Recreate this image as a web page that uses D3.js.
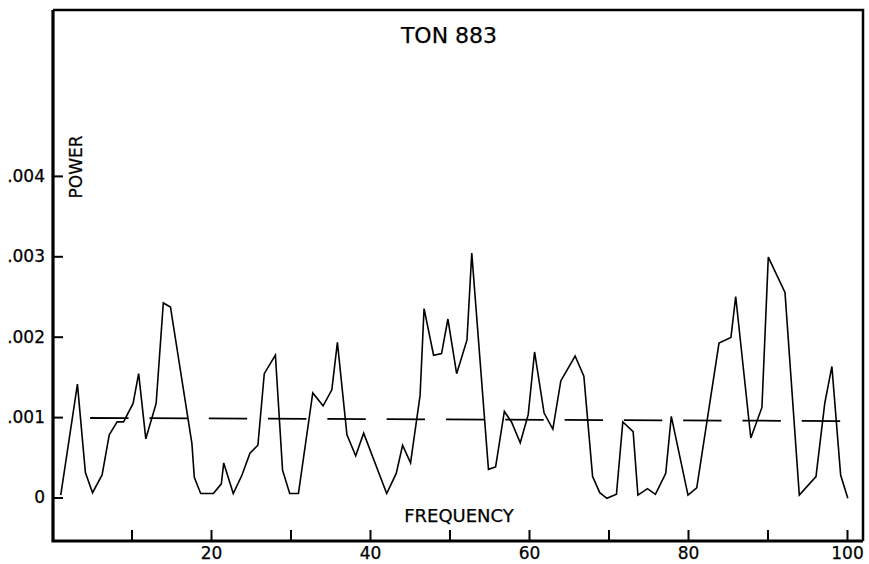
<!DOCTYPE html>
<html>
<head>
<meta charset="utf-8">
<script src="https://cdn.jsdelivr.net/npm/d3@7"></script>
<style>
  html, body { margin: 0; padding: 0; background: #fff; }
  svg { display: block; }
  text { font-family: "DejaVu Sans", sans-serif; fill: #000; stroke: #000; stroke-width: 0.25px; }
</style>
</head>
<body>
<svg id="chart" width="869" height="564"></svg>
<script>
// ---- data ----
const title = "TON 883";
const xLabel = "FREQUENCY";
const yLabel = "POWER";

const frequency = [1.1, 3.2, 4.2, 5.1, 6.3, 7.2, 8.2, 9.0, 10.2, 10.9, 11.8, 13.1, 14.0, 14.9,
  17.6, 17.9, 18.7, 20.3, 21.3, 21.6, 22.8, 23.9, 24.9, 25.9, 26.7, 28.1, 29.0, 29.9, 31.0,
  32.8, 34.1, 35.2, 35.9, 37.1, 38.2, 39.2, 42.1, 43.3, 44.1, 45.1, 46.3, 46.8, 48.0, 49.0,
  49.8, 50.9, 52.2, 52.8, 54.9, 55.8, 56.9, 57.8, 58.9, 59.9, 60.7, 61.9, 63.0, 64.0, 65.8,
  66.9, 68.0, 68.9, 69.8, 71.0, 71.8, 73.1, 73.7, 74.9, 75.9, 77.2, 77.9, 80.0, 81.1, 83.9,
  85.4, 86.0, 87.9, 89.3, 90.1, 92.2, 94.0, 96.1, 97.2, 98.1, 99.2, 100.1];
const power = [0.00003, 0.00141, 0.00031, 0.00006, 0.00028, 0.00078, 0.00094, 0.00094, 0.00117, 0.00154, 0.00073, 0.00117, 0.00242, 0.00237,
  0.00067, 0.00025, 0.00005, 0.00005, 0.00017, 0.00043, 0.00005, 0.00028, 0.00055, 0.00065, 0.00154, 0.00177, 0.00034, 0.00005, 0.00005,
  0.0013, 0.00114, 0.00134, 0.00193, 0.00078, 0.00052, 0.0008, 0.00005, 0.0003, 0.00065, 0.00043, 0.00127, 0.00235, 0.00177, 0.00179,
  0.00222, 0.00154, 0.00196, 0.00304, 0.00035, 0.00038, 0.00107, 0.00094, 0.00068, 0.00103, 0.00181, 0.00105, 0.00085, 0.00145, 0.00176,
  0.00151, 0.00026, 0.00006, -0.00001, 0.00004, 0.00094, 0.00082, 0.00003, 0.00011, 0.00004, 0.0003, 0.00101, 0.00003, 0.00012, 0.00192,
  0.00199, 0.0025, 0.00074, 0.00112, 0.00299, 0.00255, 0.00003, 0.00026, 0.00117, 0.00163, 0.00028, -0.00001];

// mean (reference) level, drawn dashed
const meanFrequency = [4.8, 99.6];
const meanPower = [0.000989, 0.000951];

const xTickValues = [10, 20, 30, 40, 50, 60, 70, 80, 90, 100];
const xTickLabels = ["", "20", "", "40", "", "60", "", "80", "", "100"];
const yTickValues = [0, 0.001, 0.002, 0.003, 0.004];
const yTickLabels = ["0", ".001", ".002", ".003", ".004"];

// ---- layout ----
const svg = d3.select("#chart");
const frame = { left: 53, right: 863, top: 10, bottom: 541 };

const x = d3.scaleLinear().domain([0, 100]).range([52, 847]);
const y = d3.scaleLinear().domain([0, 0.004]).range([497.5, 175.9]);

// frame
svg.append("path")
  .attr("d", `M${frame.left},${frame.top}H${frame.right}V${frame.bottom}`)
  .attr("fill", "none").attr("stroke", "#000").attr("stroke-width", 2.5);
svg.append("path")
  .attr("d", `M${frame.left},${frame.top}V${frame.bottom}H${frame.right}`)
  .attr("fill", "none").attr("stroke", "#000").attr("stroke-width", 3.2);

// x axis (ticks pointing up into the plot)
const xAxis = d3.axisBottom(x)
  .tickValues(xTickValues)
  .tickFormat((d, i) => xTickLabels[i])
  .tickSizeInner(-11).tickSizeOuter(0).tickPadding(4);
const gx = svg.append("g").attr("transform", `translate(0,${frame.bottom})`).call(xAxis);
gx.select(".domain").remove();
gx.selectAll(".tick line").attr("stroke", "#000").attr("stroke-width", 2);
gx.selectAll(".tick text").attr("font-size", 17).attr("font-family", "DejaVu Sans").attr("dy", "0.8em");

// y axis (ticks pointing right into the plot)
const yAxis = d3.axisLeft(y)
  .tickValues(yTickValues)
  .tickFormat((d, i) => yTickLabels[i])
  .tickSizeInner(-10).tickSizeOuter(0).tickPadding(8);
const gy = svg.append("g").attr("transform", `translate(${frame.left},0)`).call(yAxis);
gy.select(".domain").remove();
gy.selectAll(".tick line").attr("stroke", "#000").attr("stroke-width", 2);
gy.selectAll(".tick text").attr("font-size", 17).attr("font-family", "DejaVu Sans");

// dashed mean level
const meanData = meanFrequency.map((f, i) => [f, meanPower[i]]);
svg.append("path")
  .datum(meanData)
  .attr("d", d3.line().x(d => x(d[0])).y(d => y(d[1])))
  .attr("fill", "none").attr("stroke", "#000").attr("stroke-width", 1.8)
  .attr("stroke-dasharray", "38.4 20.9");

// power spectrum
const series = frequency.map((f, i) => [f, power[i]]);
svg.append("path")
  .datum(series)
  .attr("d", d3.line().x(d => x(d[0])).y(d => y(d[1])))
  .attr("fill", "none").attr("stroke", "#000").attr("stroke-width", 1.6)
  .attr("stroke-linejoin", "miter");

// labels
svg.append("text").attr("x", 449).attr("y", 43)
  .attr("text-anchor", "middle").attr("font-size", 22).text(title);
svg.append("text").attr("x", 459).attr("y", 522)
  .attr("text-anchor", "middle").attr("font-size", 18).text(xLabel);
svg.append("text")
  .attr("transform", "translate(82,167) rotate(-90)")
  .attr("text-anchor", "middle").attr("font-size", 17).text(yLabel);
</script>
</body>
</html>
